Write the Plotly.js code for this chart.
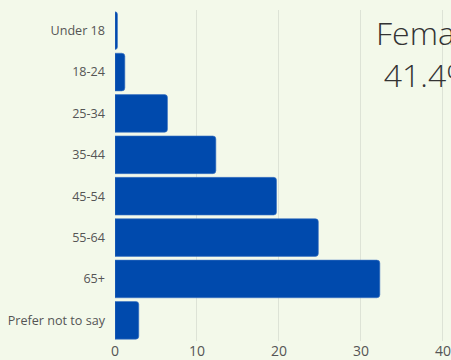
<!DOCTYPE html>
<html><head><meta charset="utf-8">
<script src="https://cdn.plot.ly/plotly-3.0.1.min.js"></script>
<style>html,body{margin:0;padding:0;background:#f3f9ea;overflow:hidden}</style>
</head><body>
<div id="chart" style="width:451px;height:360px"></div>
<script>
const categories = ["Under 18","18-24","25-34","35-44","45-54","55-64","65+","Prefer not to say"];
const values = [0.3, 1.2, 6.4, 12.3, 19.7, 24.8, 32.3, 2.9];
const xTicks = [0, 10, 20, 30, 40];
const annotationText = "Female<br>41.4%";

Plotly.newPlot("chart", [{
  type: "bar",
  orientation: "h",
  y: categories,
  x: values,
  marker: {color: "#004aad", line: {color: "#3c73c2", width: 0.6}, cornerradius: 3},
  hoverinfo: "none"
}], {
  width: 451, height: 360,
  paper_bgcolor: "#f3f9ea", plot_bgcolor: "#f3f9ea",
  margin: {l: 115, r: 0, t: 10, b: 19},
  bargap: 0.09,
  showlegend: false,
  font: {family: "Open Sans", color: "#555"},
  xaxis: {range: [0, 40.98], tickvals: xTicks, showgrid: true, gridcolor: "#dde3d6", gridwidth: 1,
          zeroline: false, tickfont: {size: 14, color: "#555"}, fixedrange: true},
  yaxis: {autorange: "reversed", tickfont: {size: 12.6, color: "#555"}, ticklabelstandoff: 9,
          showgrid: false, zeroline: false, fixedrange: true},
  annotations: [{
    text: annotationText, xref: "paper", yref: "paper", x: 0.932, y: 0.87,
    xanchor: "center", yanchor: "middle", showarrow: false, align: "center",
    font: {size: 32, color: "#333", family: "Open Sans", weight: 300}
  }]
}, {displayModeBar: false, staticPlot: true});
</script>
</body></html>
